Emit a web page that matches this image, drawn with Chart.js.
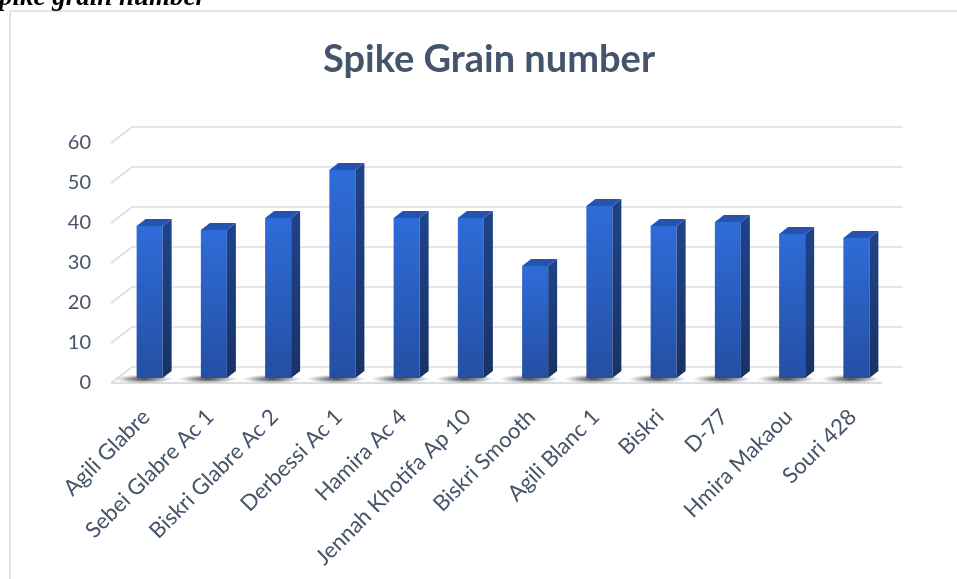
<!DOCTYPE html>
<html>
<head>
<meta charset="utf-8">
<title>Spike Grain number</title>
<script src="https://cdn.jsdelivr.net/npm/chart.js@4.4.1/dist/chart.umd.min.js"></script>
<style>
  html, body { margin: 0; padding: 0; background: #ffffff; }
  #wrap { position: relative; width: 957px; height: 579px; overflow: hidden; }
  canvas { display: block; }
</style>
</head>
<body>
<div id="wrap"><canvas id="chart" width="957" height="579"></canvas></div>
<script>
// Varieties (categories) and their mean grain count per spike
const varieties = [
  'Agili Glabre', 'Sebei Glabre Ac 1', 'Biskri Glabre Ac 2', 'Derbessi Ac 1',
  'Hamira Ac 4', 'Jennah Khotifa Ap 10', 'Biskri Smooth', 'Agili Blanc 1',
  'Biskri', 'D-77', 'Hmira Makaou', 'Souri 428'
];
const grainNumbers = [38, 37, 40, 52, 40, 40, 28, 43, 38, 39, 36, 35];
const yTickValues = [0, 10, 20, 30, 40, 50, 60];

// Styling for the pseudo-3D look
const WALL = { dx: 21, dy: -16 };      // depth of the back wall relative to the front edge
const BAR_SHIFT = { x: 6.5, y: -5 };   // bars stand a little behind the front edge
const BAR_SIDE = { dx: 9, dy: -7 };    // visible side/top depth of each column
const GRID_COLOR = '#d9dde6';
const TEXT_COLOR = '#44546a';

function frontGradient(ctx, top, bottom) {
  const g = ctx.createLinearGradient(0, top, 0, bottom);
  g.addColorStop(0, '#2f6cd8');
  g.addColorStop(1, '#244fa3');
  return g;
}

const depthPlugin = {
  id: 'depth3d',
  beforeDraw(chart) {
    const ctx = chart.ctx;
    const area = chart.chartArea;
    const y = chart.scales.y;

    // outer frame of the chart block
    ctx.save();
    ctx.strokeStyle = '#dadde5';
    ctx.lineWidth = 1.5;
    ctx.beginPath();
    ctx.moveTo(10, 579);
    ctx.lineTo(10, 11);
    ctx.lineTo(957, 11);
    ctx.stroke();
    ctx.restore();

    // back wall gridlines with their receding left ends
    ctx.save();
    ctx.strokeStyle = GRID_COLOR;
    ctx.lineWidth = 1.6;
    yTickValues.forEach(v => {
      const py = y.getPixelForValue(v);
      ctx.beginPath();
      ctx.moveTo(area.left, py);
      ctx.lineTo(area.left + WALL.dx, py + WALL.dy);
      ctx.lineTo(area.right + WALL.dx, py + WALL.dy);
      ctx.stroke();
    });
    // front edge of the floor
    const py0 = y.getPixelForValue(0);
    ctx.lineWidth = 2;
    ctx.beginPath();
    ctx.moveTo(area.left, py0);
    ctx.lineTo(area.right, py0);
    ctx.stroke();
    ctx.restore();

    // soft floor shadows under the columns
    const meta = chart.getDatasetMeta(0);
    ctx.save();
    ctx.translate(BAR_SHIFT.x, BAR_SHIFT.y);
    meta.data.forEach(bar => {
      const cx = bar.x - 6;
      const cy = bar.base + 1;
      const rx = 30, ry = 4.5;
      ctx.save();
      ctx.translate(cx, cy);
      ctx.scale(1, ry / rx);
      const g = ctx.createRadialGradient(0, 0, 0, 0, 0, rx);
      g.addColorStop(0, 'rgba(30,30,30,0.85)');
      g.addColorStop(0.55, 'rgba(70,70,70,0.45)');
      g.addColorStop(1, 'rgba(150,150,150,0)');
      ctx.fillStyle = g;
      ctx.beginPath();
      ctx.arc(0, 0, rx, 0, Math.PI * 2);
      ctx.fill();
      ctx.restore();
    });
    ctx.restore();
  },
  beforeDatasetsDraw(chart) {
    chart.ctx.save();
    chart.ctx.translate(BAR_SHIFT.x, BAR_SHIFT.y);
  },
  afterDatasetsDraw(chart) {
    const ctx = chart.ctx;
    const meta = chart.getDatasetMeta(0);
    meta.data.forEach(bar => {
      const half = bar.width / 2;
      const l = bar.x - half, r = bar.x + half;
      const t = bar.y, b = bar.base;
      // side face
      const sg = ctx.createLinearGradient(0, t, 0, b);
      sg.addColorStop(0, '#1f4389');
      sg.addColorStop(1, '#183265');
      ctx.fillStyle = sg;
      ctx.beginPath();
      ctx.moveTo(r, t);
      ctx.lineTo(r + BAR_SIDE.dx, t + BAR_SIDE.dy);
      ctx.lineTo(r + BAR_SIDE.dx, b + BAR_SIDE.dy);
      ctx.lineTo(r, b);
      ctx.closePath();
      ctx.fill();
      // top face
      ctx.fillStyle = '#2554ae';
      ctx.beginPath();
      ctx.moveTo(l, t);
      ctx.lineTo(l + BAR_SIDE.dx, t + BAR_SIDE.dy);
      ctx.lineTo(r + BAR_SIDE.dx, t + BAR_SIDE.dy);
      ctx.lineTo(r, t);
      ctx.closePath();
      ctx.fill();
    });
    ctx.restore();
  },
  afterDraw(chart) {
    // running heading of the section above the chart
    const ctx = chart.ctx;
    ctx.save();
    ctx.fillStyle = '#000000';
    ctx.font = 'italic bold 27px "Liberation Serif", "Times New Roman", serif';
    ctx.textAlign = 'right';
    ctx.textBaseline = 'alphabetic';
    ctx.fillText('Spike grain number', 206, 5);
    ctx.restore();
  }
};

new Chart(document.getElementById('chart'), {
  type: 'bar',
  data: {
    labels: varieties,
    datasets: [{
      label: 'Spike Grain number',
      data: grainNumbers,
      backgroundColor: (c) => {
        const chart = c.chart;
        if (!chart.chartArea || c.raw === undefined) return '#2a5fc0';
        const ys = chart.scales.y;
        return frontGradient(chart.ctx, ys.getPixelForValue(c.raw), ys.getPixelForValue(0));
      },
      borderWidth: 0,
      categoryPercentage: 1,
      barPercentage: 0.405,
      clip: false
    }]
  },
  options: {
    responsive: false,
    animation: false,
    devicePixelRatio: 1,
    layout: { padding: { left: 21, right: 0, top: 0, bottom: 0 } },
    plugins: {
      legend: { display: false },
      tooltip: { enabled: false },
      title: {
        display: true,
        text: 'Spike Grain number',
        color: TEXT_COLOR,
        font: { family: 'Lato', size: 38, weight: 'bold', lineHeight: 1.2 },
        padding: { top: 36.7, bottom: 60.7 }
      }
    },
    scales: {
      x: {
        grid: { display: false, drawTicks: false },
        border: { display: false },
        ticks: {
          autoSkip: false,
          maxRotation: 45,
          minRotation: 45,
          padding: 21,
          labelOffset: 3,
          color: TEXT_COLOR,
          font: { family: 'Lato', size: 22 }
        },
        afterFit(s) { s.height = 196; }
      },
      y: {
        min: 0,
        max: 60,
        grid: { display: false, drawTicks: false },
        border: { display: false },
        ticks: {
          stepSize: 10,
          padding: 20,
          color: TEXT_COLOR,
          font: { family: 'Lato', size: 20 }
        },
        afterFit(s) { s.width = 90; }
      },
      yRight: {
        position: 'right',
        display: true,
        grid: { display: false, drawTicks: false },
        border: { display: false },
        ticks: { display: false },
        afterFit(s) { s.width = 75; }
      }
    }
  },
  plugins: [depthPlugin]
});
</script>
</body>
</html>
